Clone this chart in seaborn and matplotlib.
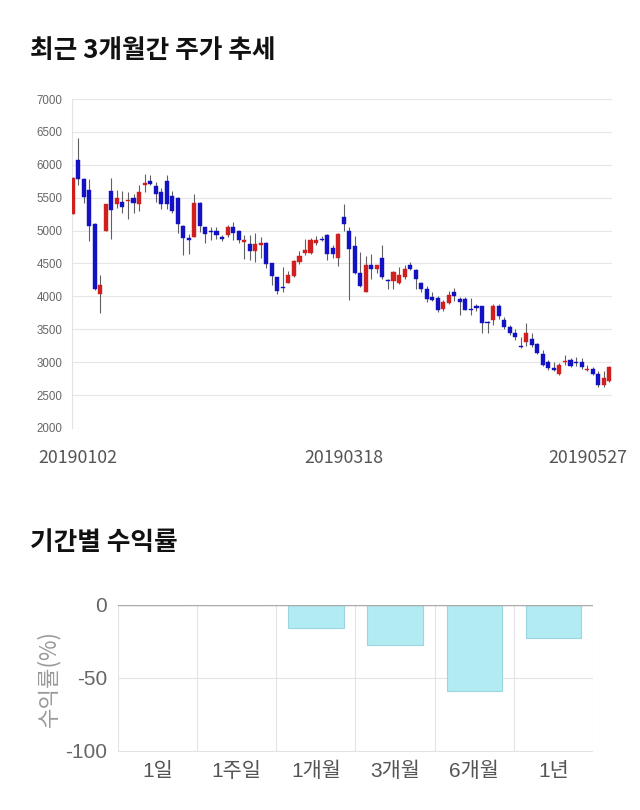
import matplotlib
matplotlib.use('Agg')
import matplotlib.pyplot as plt
import seaborn as sns
import numpy as np
import pandas as pd
from matplotlib.transforms import ScaledTranslation

# ---- data: daily candles 2019-01-02 .. 2019-05-27 ----
opens = [5250, 6070, 5790, 5610, 5100, 4030, 5000, 5600, 5400, 5430,
         5445, 5500, 5410, 5700, 5760, 5680, 5580, 5760, 5520, 5500,
         5070, 4890, 4900, 5420, 5050, 5000, 4990, 4910, 4930, 5050,
         5000, 4830, 4800, 4690, 4780, 4810, 4500, 4290, 4150, 4210,
         4310, 4520, 4660, 4660, 4810, 4870, 4940, 4730, 4580, 5200,
         5000, 4760, 4360, 4070, 4480, 4420, 4590, 4250, 4240, 4210,
         4290, 4470, 4400, 4210, 4120, 3990, 3970, 3810, 3900, 4060,
         3960, 3960, 3810, 3850, 3850, 3610, 3640, 3850, 3640, 3530,
         3450, 3240, 3300, 3350, 3270, 3130, 3000, 2910, 2820, 3000,
         3035, 3010, 3010, 2880, 2900, 2820, 2660, 2710]
highs = [5820, 6400, 5800, 5790, 5110, 4330, 5410, 5800, 5620, 5600,
         5580, 5560, 5700, 5860, 5840, 5740, 5650, 5840, 5600, 5510,
         5080, 4950, 5550, 5430, 5060, 5060, 5060, 4940, 5090, 5130,
         5010, 4940, 4940, 4970, 4910, 4820, 4510, 4290, 4450, 4380,
         4550, 4690, 4870, 4890, 4920, 4920, 4950, 4780, 4960, 5410,
         5060, 4920, 4670, 4610, 4650, 4480, 4780, 4260, 4380, 4450,
         4480, 4530, 4410, 4220, 4160, 4060, 4010, 3950, 4080, 4130,
         3990, 3990, 3970, 3880, 3860, 3620, 3890, 3880, 3680, 3560,
         3500, 3390, 3590, 3440, 3290, 3180, 3040, 3000, 2990, 3110,
         3060, 3080, 3060, 2960, 2930, 2860, 2860, 2940]
lows = [5250, 5700, 5420, 4840, 4100, 3750, 4990, 4870, 5340, 5260,
        5180, 5260, 5300, 5590, 5690, 5440, 5330, 5330, 5270, 4960,
        4630, 4650, 4900, 4980, 4810, 4860, 4870, 4840, 4910, 4860,
        4810, 4570, 4560, 4520, 4590, 4430, 4180, 4030, 4070, 4200,
        4300, 4490, 4630, 4640, 4780, 4840, 4560, 4590, 4460, 5000,
        3940, 4340, 4150, 4060, 4260, 4350, 4270, 4110, 4110, 4190,
        4270, 4400, 4110, 4060, 3910, 3930, 3770, 3780, 3880, 3930,
        3720, 3790, 3720, 3780, 3440, 3440, 3570, 3650, 3500, 3420,
        3340, 3220, 3240, 3230, 3120, 2940, 2880, 2860, 2810, 2960,
        2920, 2940, 2890, 2860, 2810, 2630, 2620, 2700]
closes = [5800, 5790, 5510, 5070, 4120, 4170, 5400, 5310, 5500, 5360,
          5460, 5420, 5590, 5720, 5715, 5560, 5400, 5400, 5300, 5100,
          4890, 4850, 5420, 5070, 4950, 4980, 4940, 4875, 5050, 4970,
          4860, 4860, 4690, 4800, 4810, 4500, 4310, 4080, 4130, 4320,
          4540, 4620, 4700, 4850, 4860, 4850, 4650, 4650, 4950, 5100,
          4720, 4360, 4160, 4470, 4410, 4470, 4290, 4240, 4370, 4330,
          4420, 4420, 4270, 4110, 3960, 3950, 3800, 3920, 4020, 4010,
          3910, 3800, 3800, 3820, 3590, 3600, 3850, 3700, 3530, 3450,
          3390, 3225, 3450, 3265, 3140, 2960, 2910, 2880, 2960, 3020,
          2945, 2990, 2930, 2895, 2820, 2650, 2760, 2930]
date_tick_pos = [0, 49, 97]
date_tick_labels = ['20190102', '20190318', '20190527']
price_ticks = [2000, 2500, 3000, 3500, 4000, 4500, 5000, 5500, 6000, 6500, 7000]

# ---- data: period returns ----
periods = ['1일', '1주일', '1개월', '3개월', '6개월', '1년']
returns = [0.0, 0.0, -15.9, -27.3, -58.6, -22.7]
return_ticks = [0, -50, -100]

sns.set_style('white')
plt.rcParams['font.family'] = ['Liberation Sans', 'Noto Sans CJK KR', 'DejaVu Sans']
plt.rcParams['axes.unicode_minus'] = False
KR = ['Noto Sans CJK KR', 'DejaVu Sans']

fig = plt.figure(figsize=(6.4, 8.1), dpi=100)
W, H = 640, 810

def ax_rect(x0, y0, x1, y1):
    return [x0 / W, 1 - y1 / H, (x1 - x0) / W, (y1 - y0) / H]

# ================= candlestick chart =================
ax1 = fig.add_axes(ax_rect(72, 99, 612, 428))
df = pd.DataFrame({'open': opens, 'high': highs, 'low': lows, 'close': closes})
df['idx'] = np.arange(len(df))
df['up'] = df['close'] >= df['open']
df['bottom'] = df[['open', 'close']].min(axis=1)
df['height'] = (df['close'] - df['open']).abs().clip(lower=14)
colors = np.where(df['up'], '#d01f1f', '#1212c4')

ax1.vlines(df['idx'], df['low'], df['high'], color='#606060', lw=0.8, zorder=2)
ax1.bar(df['idx'], df['height'], bottom=df['bottom'], width=0.74,
        color=colors, edgecolor=colors, linewidth=0.3, zorder=3)

ax1.set_xlim(-0.12, 97.5)
ax1.set_ylim(2000, 7000)
ax1.set_yticks(price_ticks)
ax1.set_yticklabels([str(v) for v in price_ticks], fontsize=8.3, color='#666666')
ax1.set_xticks(date_tick_pos)
ax1.set_xticklabels(date_tick_labels, fontsize=12.8, color='#555555', family=KR)
ax1.tick_params(axis='x', length=0, pad=15)
ax1.tick_params(axis='y', length=0, pad=7)
first = ax1.get_xticklabels()[0]
first.set_transform(first.get_transform() + ScaledTranslation(5 / 100, 0, fig.dpi_scale_trans))
last = ax1.get_xticklabels()[-1]
last.set_transform(last.get_transform() + ScaledTranslation(-21 / 100, 0, fig.dpi_scale_trans))
ax1.grid(axis='y', color='#e6e6e6', lw=0.8)
ax1.grid(axis='x', visible=False)
for s in ['top', 'right', 'bottom']:
    ax1.spines[s].set_visible(False)
ax1.spines['left'].set_color('#e3e3e3')
ax1.spines['left'].set_linewidth(0.8)
ax1.set_axisbelow(True)

fig.text(30 / W, 1 - 50 / H, '최근 3개월간 주가 추세', fontsize=18.5, fontweight='bold',
         family=KR, color='#111111', va='center', ha='left')

# ================= returns bar chart =================
ax2 = fig.add_axes(ax_rect(118, 605, 593, 752))
rdf = pd.DataFrame({'period': periods, 'ret': returns})
sns.barplot(data=rdf, x='period', y='ret', color='#b3ebf3', edgecolor='#9ad6e2',
            linewidth=0.8, width=0.7, saturation=1, ax=ax2, zorder=3)
ax2.set_ylim(-100.7, 0)
ax2.set_xlim(-0.5, len(periods) - 0.5)
ax2.set_yticks(return_ticks)
ax2.set_yticklabels([str(v) for v in return_ticks], fontsize=15, color='#666666')
ax2.set_xticks(range(len(periods)))
ax2.set_xticklabels(periods, fontsize=15, color='#555555')
ax2.set_xticks(np.arange(-0.5, len(periods), 1.0), minor=True)
ax2.tick_params(axis='x', which='major', length=0, pad=7)
ax2.tick_params(axis='x', which='minor', length=11, color='#e3e3e3', width=0.8)
ax2.tick_params(axis='y', length=0, pad=8)
ax2.set_xlabel('')
ax2.set_ylabel('수익률(%)', fontsize=16, color='#999999', family=KR, labelpad=3)
ax2.grid(axis='y', color='#e3e3e3', lw=0.8, zorder=0)
ax2.grid(axis='x', which='minor', color='#e3e3e3', lw=0.8, zorder=0)
ax2.grid(axis='x', which='major', visible=False)
ax2.axhline(0, color='#aaaaaa', lw=1.0, zorder=4)
for s in ['top', 'right', 'left', 'bottom']:
    ax2.spines[s].set_visible(False)
ax2.set_axisbelow(True)

fig.text(30 / W, 1 - 543 / H, '기간별 수익률', fontsize=18.5, fontweight='bold',
         family=KR, color='#111111', va='center', ha='left')

fig.savefig('out.png', dpi=100)
